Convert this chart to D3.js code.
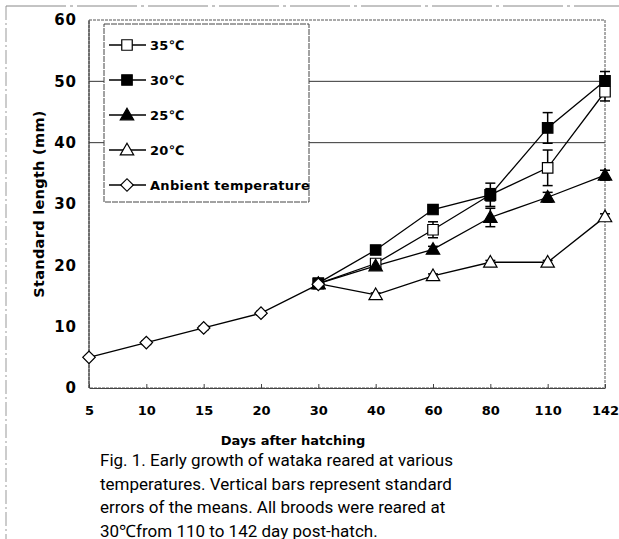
<!DOCTYPE html>
<html>
<head>
<meta charset="utf-8">
<script src="https://cdnjs.cloudflare.com/ajax/libs/d3/7.8.5/d3.min.js"></script>
<style>
  body { margin: 0; background: #fff; }
  svg { display: block; }
</style>
</head>
<body>
<div id="chart"></div>
<script>

// data
var days = ["5", "10", "15", "20", "30", "40", "60", "80", "110", "142"];
var yTicks = [0, 10, 20, 30, 40, 50, 60];
var gridTicks = [40, 50];

var ambient = [5.0, 7.4, 9.8, 12.2, 16.9, null, null, null, null, null];
var t35 = [null, null, null, null, 17.0, 20.3, 25.8, 31.5, 35.9, 48.3];
var t30 = [null, null, null, null, 17.1, 22.5, 29.1, 31.5, 42.4, 50.1];
var t25 = [null, null, null, null, 17.0, 19.9, 22.6, 27.8, 31.1, 34.7];
var t20 = [null, null, null, null, 17.0, 15.2, 18.3, 20.5, 20.5, 27.9];

var seAmb = [0.2, 0.3, 0.3, 0.3, 0.6, null, null, null, null, null];
var se35 = [null, null, null, null, 0.3, 0.5, 1.3, 1.0, 2.9, 1.5];
var se30 = [null, null, null, null, 0.3, 0.5, 0.6, 1.9, 2.5, 1.5];
var se25 = [null, null, null, null, 0.3, 0.5, 0.5, 1.5, 0.8, 0.8];
var se20 = [null, null, null, null, 0.3, 0.3, 0.3, 0.3, 0.3, 0.5];

var legendLabels = ["35\u2103", "30\u2103", "25\u2103", "20\u2103", "Anbient temperature"];

var caption = [
  "Fig. 1. Early growth of wataka reared at various",
  "temperatures. Vertical bars represent standard",
  "errors of the means. All broods were reared at",
  "30\u2103from 110 to 142 day post-hatch."
];

var W = 619, H = 539;
var margin = {top: 20, right: 14, bottom: 151, left: 89};
var w = W - margin.left - margin.right;
var h = H - margin.top - margin.bottom;

var boldFont = "DejaVu Sans";

var svg = d3.select("#chart").append("svg")
    .attr("width", W)
    .attr("height", H);

// scanned page border
svg.append("line").attr("x1", 6).attr("x2", 6).attr("y1", 6).attr("y2", H)
    .attr("stroke", "#999").attr("stroke-dasharray", "14,3,2,3");
svg.append("line").attr("x1", 6).attr("x2", W).attr("y1", 6).attr("y2", 6)
    .attr("stroke", "#888").attr("stroke-dasharray", "60,4,3,4");

var g = svg.append("g")
    .attr("transform", "translate(" + margin.left + "," + margin.top + ")");

var x = d3.scalePoint().domain(days).range([0, w]).padding(0);
var y = d3.scaleLinear().domain([0, 60]).range([h, 0]);

// gridlines
g.selectAll(".grid").data(gridTicks).enter().append("line")
    .attr("x1", 0).attr("x2", w)
    .attr("y1", function(d) { return y(d); })
    .attr("y2", function(d) { return y(d); })
    .attr("stroke", "#333").attr("stroke-width", 1);

// frame
g.append("rect").attr("width", w).attr("height", h)
    .attr("fill", "none").attr("stroke", "#555")
    .attr("stroke-dasharray", "3,1");
g.append("line").attr("x1", 0).attr("x2", 0).attr("y1", 0).attr("y2", h)
    .attr("stroke", "#333");

// x axis
var xAxis = g.append("g").attr("transform", "translate(0," + h + ")")
    .call(d3.axisBottom(x).tickSizeInner(-4).tickSizeOuter(0).tickPadding(18));
xAxis.select(".domain").attr("stroke", "#444");
xAxis.selectAll(".tick line").attr("stroke", "#444");
xAxis.selectAll("text")
    .attr("font-family", boldFont)
    .attr("font-weight", "bold")
    .attr("font-size", 13)
    .attr("fill", "#000");

// y axis
var yAxis = g.append("g")
    .call(d3.axisLeft(y).tickValues(yTicks).tickSize(0).tickPadding(12));
yAxis.select(".domain").remove();
yAxis.selectAll("text")
    .attr("font-family", boldFont)
    .attr("font-weight", "bold")
    .attr("font-size", 15)
    .attr("letter-spacing", 1)
    .attr("fill", "#000");

// axis titles
svg.append("text")
    .attr("transform", "translate(44," + (margin.top + h / 2) + ") rotate(-90)")
    .attr("text-anchor", "middle")
    .attr("font-family", boldFont)
    .attr("font-weight", "bold")
    .attr("font-size", 14.5)
    .attr("letter-spacing", 0.3)
    .text("Standard length (mm)");

svg.append("text")
    .attr("x", 293).attr("y", 445)
    .attr("text-anchor", "middle")
    .attr("font-family", boldFont)
    .attr("font-weight", "bold")
    .attr("font-size", 13)
    .text("Days after hatching");

// caption
svg.append("g").selectAll("text").data(caption).enter().append("text")
    .attr("x", 100)
    .attr("y", function(d, i) { return 466 + i * 23.5; })
    .attr("font-family", "Roboto")
    .attr("font-size", 17)
    .attr("fill", "#000")
    .text(function(d) { return d; });

// series
var series = [
  {name: legendLabels[3], vals: t20, se: se20, shape: "tri", fill: "#fff"},
  {name: legendLabels[0], vals: t35, se: se35, shape: "square", fill: "#fff"},
  {name: legendLabels[2], vals: t25, se: se25, shape: "tri", fill: "#000"},
  {name: legendLabels[1], vals: t30, se: se30, shape: "square", fill: "#000"},
  {name: legendLabels[4], vals: ambient, se: seAmb, shape: "diamond", fill: "#fff"}
];

var symbols = {
  square: d3.symbol().type(d3.symbolSquare).size(110),
  tri: d3.symbol().type(d3.symbolTriangle).size(78),
  diamond: d3.symbol().type(d3.symbolSquare).size(78)
};

function markTransform(s, cx, cy) {
  if (s.shape == "tri") return "translate(" + cx + "," + (cy + 1) + ")";
  if (s.shape == "diamond") return "translate(" + cx + "," + cy + ") rotate(45)";
  return "translate(" + cx + "," + cy + ")";
}

function pts(s) {
  return s.vals.map(function(v, i) {
    return {day: days[i], v: v, se: s.se[i]};
  }).filter(function(d) { return d.v != null; });
}

var line = d3.line()
    .x(function(d) { return x(d.day); })
    .y(function(d) { return y(d.v); });

series.forEach(function(s) {
  g.append("path").datum(pts(s))
      .attr("d", line)
      .attr("fill", "none")
      .attr("stroke", "#000")
      .attr("stroke-width", 1.3);
});

series.forEach(function(s) {
  var eb = g.append("g").selectAll("g").data(pts(s)).enter().append("g");
  eb.append("line")
      .attr("x1", function(d) { return x(d.day); })
      .attr("x2", function(d) { return x(d.day); })
      .attr("y1", function(d) { return y(d.v - d.se); })
      .attr("y2", function(d) { return y(d.v + d.se); })
      .attr("stroke", "#000").attr("stroke-width", 1.5);
  [-1, 1].forEach(function(k) {
    eb.append("line")
        .attr("x1", function(d) { return x(d.day) - 5; })
        .attr("x2", function(d) { return x(d.day) + 5; })
        .attr("y1", function(d) { return y(d.v + k * d.se); })
        .attr("y2", function(d) { return y(d.v + k * d.se); })
        .attr("stroke", "#000").attr("stroke-width", 1.5);
  });
});

series.forEach(function(s) {
  g.append("g").selectAll("path").data(pts(s)).enter().append("path")
      .attr("transform", function(d) { return markTransform(s, x(d.day), y(d.v)); })
      .attr("d", symbols[s.shape])
      .attr("fill", s.fill)
      .attr("stroke", "#000")
      .attr("stroke-width", 1.2);
});

// legend
var legendOrder = [1, 3, 2, 0, 4];
var lg = svg.append("g").attr("transform", "translate(104,24)");
lg.append("rect").attr("width", 205).attr("height", 178)
    .attr("fill", "#fff").attr("stroke", "#444").attr("stroke-dasharray", "6,1");
legendOrder.forEach(function(si, i) {
  var s = series[si];
  var row = lg.append("g").attr("transform", "translate(0," + (21 + i * 35) + ")");
  row.append("line").attr("x1", 5).attr("x2", 42)
      .attr("stroke", "#000").attr("stroke-width", 1.3);
  row.append("path")
      .attr("transform", markTransform(s, 23, 0))
      .attr("d", symbols[s.shape])
      .attr("fill", s.fill).attr("stroke", "#000").attr("stroke-width", 1.2);
  row.append("text")
      .attr("x", 46).attr("dy", "0.35em")
      .attr("font-family", boldFont)
      .attr("font-weight", "bold")
      .attr("font-size", 13)
      .attr("letter-spacing", 0.3)
      .text(s.name);
});

</script>
</body>
</html>
